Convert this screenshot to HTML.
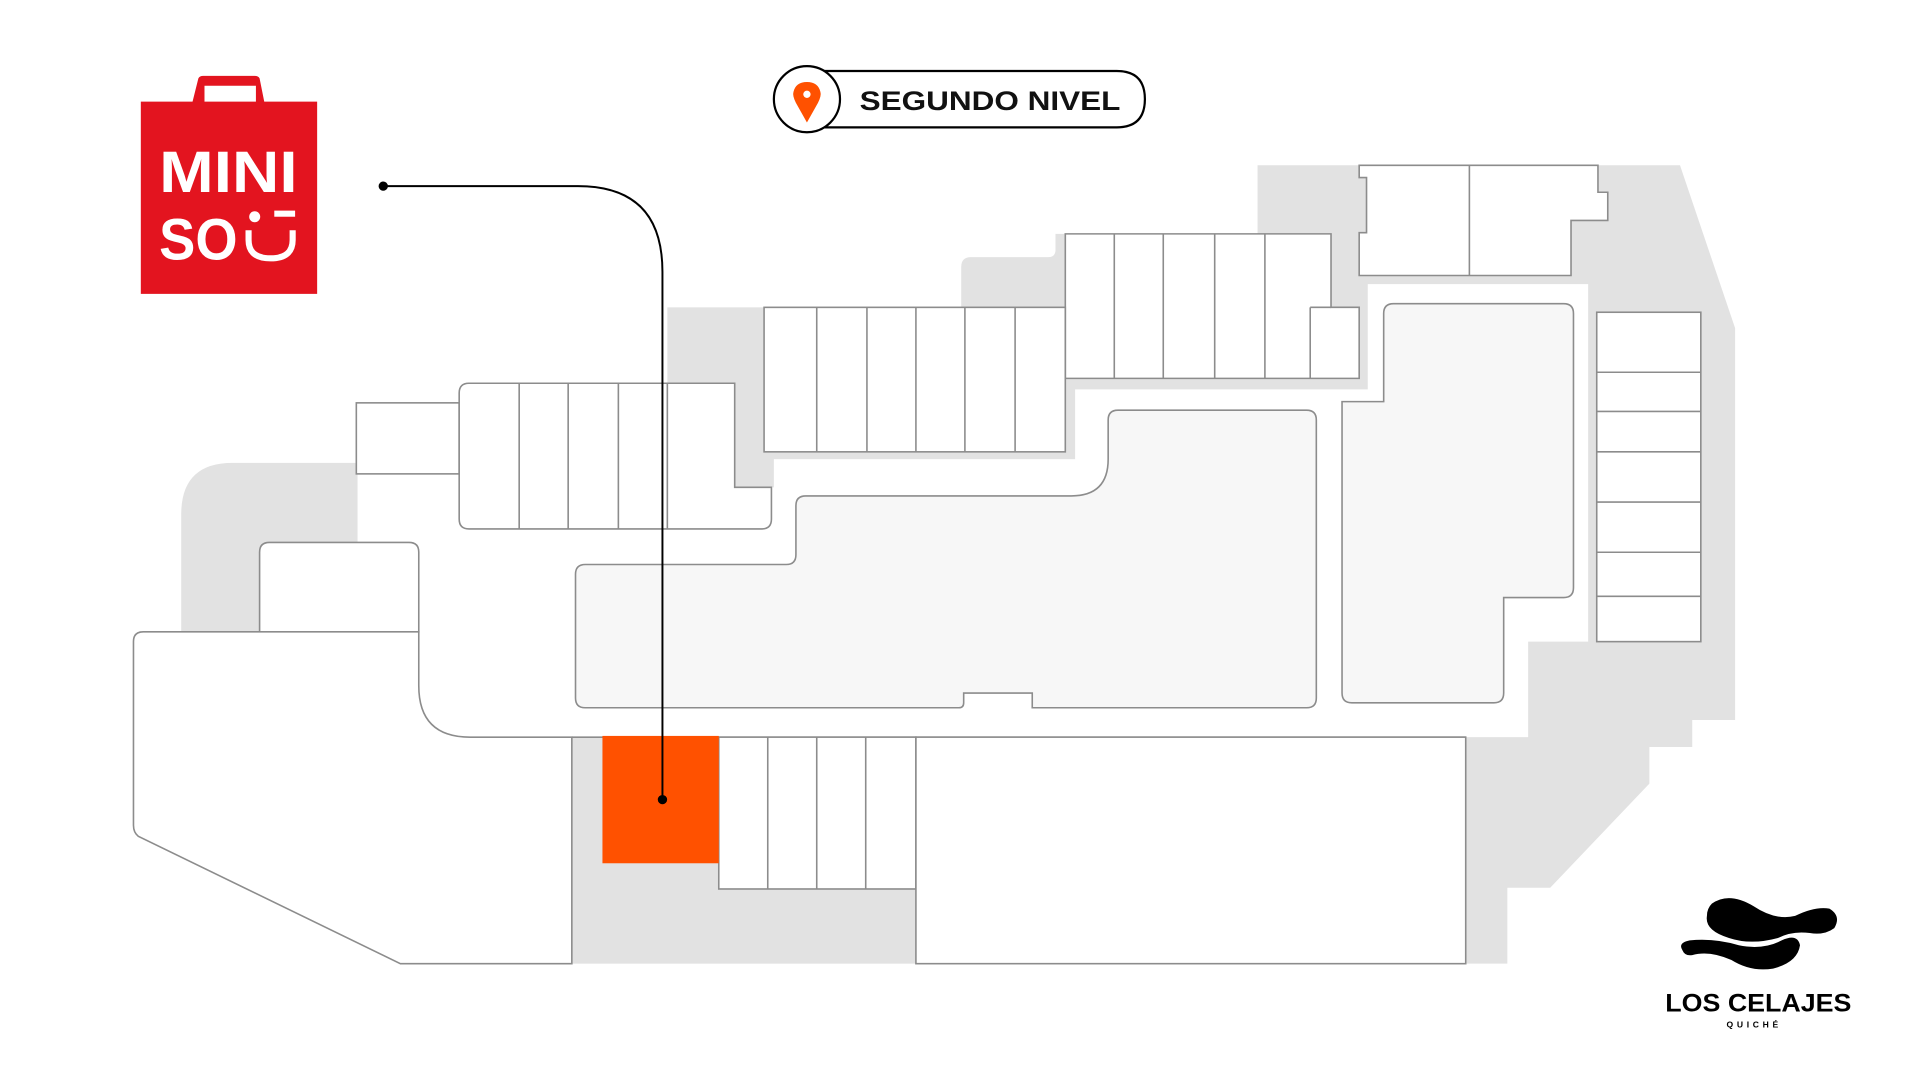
<!DOCTYPE html>
<html><head><meta charset="utf-8"><style>html,body{margin:0;padding:0;background:#fff;width:1920px;height:1080px;overflow:hidden}svg{display:block}</style></head>
<body>
<svg width="1920" height="1080" viewBox="0 0 1568 882" preserveAspectRatio="none" xmlns="http://www.w3.org/2000/svg" font-family="Liberation Sans, sans-serif">
<rect width="1568" height="882" fill="#fff"/>
<g fill="#e2e2e2">
<path d="M148,516 V420 Q148,378 190,378 H292 V516 Z"/>
<rect x="545" y="251" width="87" height="147"/>
<rect x="624" y="309" width="254" height="66"/>
<path d="M785,251 V218 Q785,210 793,210 H856 Q862,210 862,204 V191 H870 V251 Z"/>
<path d="M1027,135 H1372 L1417,268 V588 H1382 V610 H1347 V640 L1266,725 H1231 V787 H1197 V602 H1248 V524 H1297 V232 H1117 V318 H870 V191 H1027 Z"/>
<rect x="467" y="602" width="281" height="185"/>
</g>
<g stroke="#8c8c8c" stroke-width="1.3" fill="#fff">
<path fill="#f7f7f7" d="M478,461 H642 Q650,461 650,453 V413 Q650,405 658,405 H875 Q905,405 905,375 V343 Q905,335 913,335 H1067 Q1075,335 1075,343 V570 Q1075,578 1067,578 H843 V566 H787 V574 Q787,578 783,578 H478 Q470,578 470,570 V469 Q470,461 478,461 Z"/>
<path fill="#f7f7f7" d="M1096,328 H1130 V256 Q1130,248 1138,248 H1277 Q1285,248 1285,256 V480 Q1285,488 1277,488 H1228 V566 Q1228,574 1220,574 H1104 Q1096,574 1096,566 Z"/>
<rect x="1304" y="255" width="85" height="269"/>
<path d="M1304,304 H1389 M1304,336 H1389 M1304,369 H1389 M1304,410 H1389 M1304,451 H1389 M1304,487 H1389" fill="none"/>
<path d="M1110,135 H1305 V157 H1313 V180 H1283 V225 H1110 V190 H1116 V145 H1110 Z"/>
<path d="M1200,135 V225" fill="none"/>
<path d="M870,191 H1087 V251 H1110 V309 H870 Z"/>
<path d="M910,191 V309 M950,191 V309 M992,191 V309 M1033,191 V309 M1070,251 V309 M1070,251 H1087" fill="none"/>
<rect x="624" y="251" width="246" height="118"/>
<path d="M667,251 V369 M708,251 V369 M748,251 V369 M788,251 V369 M829,251 V369" fill="none"/>
<rect x="291" y="329" width="84" height="58"/>
<path d="M383,313 H600 V398 H630 V424 Q630,432 622,432 H383 Q375,432 375,424 V321 Q375,313 383,313 Z"/>
<path d="M424,313 V432 M464,313 V432 M505,313 V432 M545,313 V432" fill="none"/>
<path d="M212,516 V451 Q212,443 220,443 H334 Q342,443 342,451 V516 Z"/>
<path d="M117,516 H342 V560 Q342,602 384,602 H467 V787 H327 L113,683 Q109,680 109,674 V524 Q109,516 117,516 Z"/>
<path d="M467,602 H1197" fill="none"/>
<rect x="587" y="602" width="161" height="124"/>
<path d="M627,602 V726 M667,602 V726 M707,602 V726" fill="none"/>
<rect x="748" y="602" width="449" height="185"/>
</g>
<rect x="492" y="601" width="95" height="104" fill="#ff5100"/>
<path d="M313,152 H472 Q541,152 541,222 V653" fill="none" stroke="#000" stroke-width="1.6"/>
<circle cx="313" cy="152" r="3.8"/><circle cx="541" cy="653" r="3.8"/>
<path d="M157,84 L162,64 Q163,62 166,62 H208 Q211,62 212,64 L216,84 Z M167,84 H209 V70 H167 Z" fill="#e3141f" fill-rule="evenodd"/>
<rect x="115" y="83" width="144" height="157" fill="#e3141f"/>
<text x="130" y="157" fill="#fff" font-size="48" font-weight="bold" textLength="113" lengthAdjust="spacingAndGlyphs">MINI</text>
<text x="130" y="212" fill="#fff" font-size="48" font-weight="bold" textLength="64" lengthAdjust="spacingAndGlyphs">SO</text>
<circle cx="208" cy="177" r="4.5" fill="#fff"/>
<rect x="224" y="172" width="17" height="5" fill="#fff"/>
<path d="M203,188 V196 Q203,211 221,211 Q239,211 239,196 V188" fill="none" stroke="#fff" stroke-width="5"/>
<path d="M659,58 H912 Q935,58 935,81 Q935,104 912,104 H659" fill="#fff" stroke="#000" stroke-width="1.8"/>
<circle cx="659" cy="81" r="27" fill="#fff" stroke="#000" stroke-width="1.8"/>
<path d="M659,100 L650,84 Q647,78 648,75 Q650,67 659,67 Q668,67 670,75 Q671,78 668,84 Z" fill="#ff5100"/>
<circle cx="659" cy="77" r="3" fill="#fff"/>
<text x="702" y="90" font-size="22" font-weight="bold" fill="#111" textLength="213" lengthAdjust="spacingAndGlyphs">SEGUNDO NIVEL</text>
<path d="M1398,738 Q1412,728 1432,740 Q1450,752 1466,748 Q1482,740 1494,742 Q1504,748 1498,758 Q1490,764 1478,762 Q1464,760 1452,766 Q1430,772 1412,766 Q1392,760 1394,748 Q1394,742 1398,738 Z" fill="#000"/>
<path d="M1374,776 Q1370,770 1380,768 Q1400,766 1420,772 Q1440,776 1455,768 Q1468,762 1470,772 Q1468,786 1448,791 Q1430,794 1414,784 Q1396,776 1382,780 Q1376,781 1374,776 Z" fill="#000"/>
<text x="1360" y="826" font-size="20.5" font-weight="bold" fill="#000" textLength="152" lengthAdjust="spacingAndGlyphs">LOS CELAJES</text>
<text x="1410" y="839" font-size="7" font-weight="bold" fill="#000" letter-spacing="3">QUICHÉ</text>
</svg>
</body></html>
